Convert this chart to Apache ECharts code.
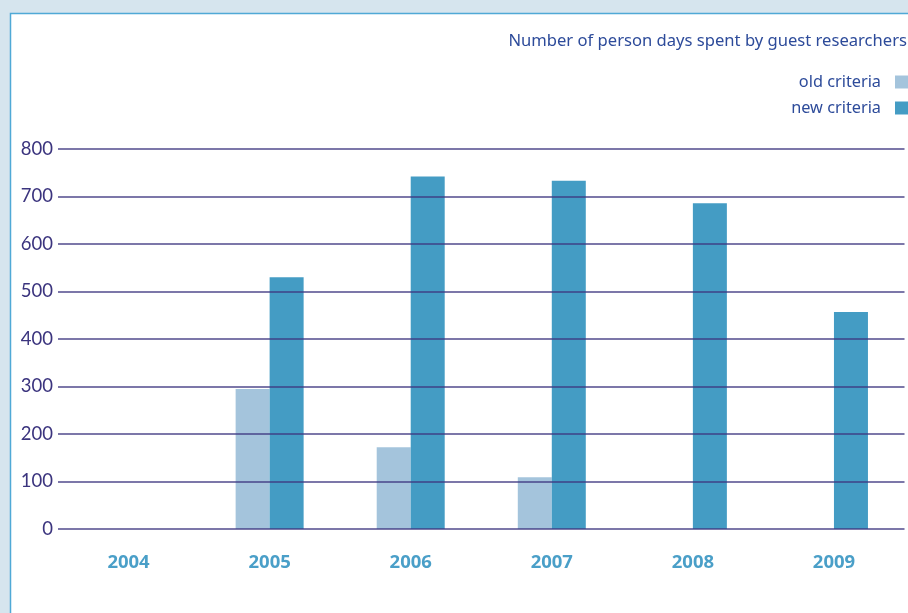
<!DOCTYPE html>
<html>
<head>
<meta charset="utf-8">
<script src="https://cdn.jsdelivr.net/npm/echarts@6/dist/echarts.min.js"></script>
<style>
html,body{margin:0;padding:0;background:#d6e5ee;}
#chart{width:908px;height:613px;}
</style>
</head>
<body>
<div id="chart"></div>
<script>
const categories = ['2004', '2005', '2006', '2007', '2008', '2009'];
const oldCriteria = [0, 295, 172, 109, 0, 0];
const newCriteria = [0, 530, 742, 733, 686, 457];
const yTicks = [0, 100, 200, 300, 400, 500, 600, 700, 800];
const titleText = 'Number of person days spent by guest researchers';
const seriesNames = ['old criteria', 'new criteria'];

const chart = echarts.init(document.getElementById('chart'));
chart.setOption({
  backgroundColor: '#d6e5ee',
  animation: false,
  graphic: [{
    type: 'rect', z: -10, silent: true,
    shape: { x: 10.5, y: 13.5, width: 920, height: 620 },
    style: { fill: '#ffffff', stroke: '#4fa9d6', lineWidth: 1.5 }
  }],
  title: {
    text: titleText, right: 1, top: 33, padding: 0,
    textStyle: { fontFamily: 'Noto Sans', fontWeight: 'normal', fontSize: 16.6, color: '#2d4b9a' }
  },
  legend: {
    orient: 'vertical', right: 0, top: 74, padding: 0, itemGap: 10,
    align: 'right', itemWidth: 13, itemHeight: 13, icon: 'rect',
    data: seriesNames,
    textStyle: { fontFamily: 'Noto Sans', fontSize: 16.3, color: '#2d4b9a', padding: [0, 9, 0, 0] }
  },
  grid: { left: 58, right: 3.5, top: 149, bottom: 84, containLabel: false },
  xAxis: {
    type: 'category', data: categories,
    axisLine: { show: false }, axisTick: { show: false },
    axisLabel: { margin: 24, fontFamily: 'Noto Sans', fontWeight: 'bold', fontSize: 18.5, color: '#4a9fc8' }
  },
  yAxis: {
    type: 'value', min: 0, max: 800, interval: 100, z: 5,
    axisLine: { show: false }, axisTick: { show: false },
    axisLabel: {
      margin: 5, fontFamily: 'Lato', fontSize: 18.5, color: '#3b347e',
      formatter: v => (yTicks.indexOf(v) >= 0 ? String(v) : '')
    },
    splitLine: { show: true, lineStyle: { color: '#3d3580', width: 1.5, opacity: 0.9 } }
  },
  series: [
    { name: seriesNames[0], type: 'bar', data: oldCriteria, barWidth: 34, barGap: '0%', itemStyle: { color: '#a4c4dc' } },
    { name: seriesNames[1], type: 'bar', data: newCriteria, barWidth: 34, barGap: '0%', itemStyle: { color: '#449cc4' } }
  ]
});
</script>
</body>
</html>
